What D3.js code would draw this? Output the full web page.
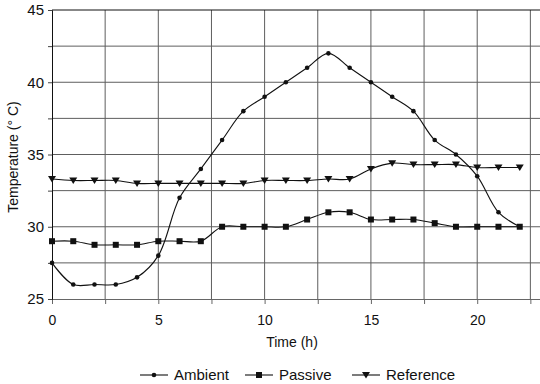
<!DOCTYPE html>
<html>
<head>
<meta charset="utf-8">
<script src="https://cdn.jsdelivr.net/npm/d3@7"></script>
<style>
  body { margin: 0; background: #fff; }
  text { font-family: "Liberation Sans", Arial, sans-serif; fill: #111; }
</style>
</head>
<body>
<svg id="chart" width="540" height="384"></svg>
<script>
// hours 0..22
var hours = [0, 1, 2, 3, 4, 5, 6, 7, 8, 9, 10, 11, 12, 13, 14, 15, 16, 17, 18, 19, 20, 21, 22];
var ambient = [27.5, 26, 26, 26, 26.5, 28, 32, 34, 36, 38, 39, 40, 41, 42, 41, 40, 39, 38, 36, 35, 33.5, 31, 30];
var passive = [29, 29, 28.75, 28.75, 28.75, 29, 29, 29, 30, 30, 30, 30, 30.5, 31, 31, 30.5, 30.5, 30.5, 30.25, 30, 30, 30, 30];
var reference = [33.3, 33.2, 33.2, 33.2, 33, 33, 33, 33, 33, 33, 33.2, 33.2, 33.2, 33.3, 33.3, 34, 34.4, 34.3, 34.3, 34.3, 34.1, 34.1, 34.1];
var seriesNames = ['Ambient', 'Passive', 'Reference'];
var xTicks = [0, 5, 10, 15, 20];
var yTicks = [25, 30, 35, 40, 45];

var svg = d3.select('#chart');
var plotLeft = 52, plotRight = 541, plotTop = 10, plotBottom = 299;

var xScale = d3.scaleLinear().domain([0, 23]).range([plotLeft, plotRight]);
var yScale = d3.scaleLinear().domain([25, 45]).range([plotBottom, plotTop]);

// grid every 2.5
var gridX = d3.range(2.5, 23, 2.5);
var gridY = d3.range(27.5, 45, 2.5);

svg.append('g').selectAll('line')
    .data(gridX)
    .enter().append('line')
    .attr('x1', d => xScale(d)).attr('x2', d => xScale(d))
    .attr('y1', plotTop).attr('y2', plotBottom)
    .attr('stroke', '#5e5e5e').attr('stroke-width', 1);

svg.append('g').selectAll('line')
    .data(gridY)
    .enter().append('line')
    .attr('x1', plotLeft).attr('x2', plotRight)
    .attr('y1', d => yScale(d)).attr('y2', d => yScale(d))
    .attr('stroke', '#5e5e5e').attr('stroke-width', 1);

// top border
svg.append('line')
    .attr('x1', plotLeft).attr('x2', plotRight)
    .attr('y1', plotTop).attr('y2', plotTop)
    .attr('stroke', '#111');

// axes
var xAxis = d3.axisBottom(xScale)
    .tickValues(d3.range(0, 23, 2.5))
    .tickSize(5)
    .tickFormat(d => xTicks.indexOf(d) >= 0 ? d : '');
var gx = svg.append('g')
    .attr('transform', `translate(0,${plotBottom})`)
    .call(xAxis);
gx.select('.domain').attr('stroke', '#666');
gx.selectAll('.tick line').attr('stroke', '#666');
gx.selectAll('text').attr('font-size', 14).attr('dy', '1.25em');

var yAxis = d3.axisLeft(yScale)
    .tickValues(d3.range(25, 45.1, 2.5))
    .tickSize(4)
    .tickFormat(d => yTicks.indexOf(d) >= 0 ? d : '');
var gy = svg.append('g')
    .attr('transform', `translate(${plotLeft},0)`)
    .call(yAxis);
gy.select('.domain').attr('stroke', '#111');
gy.selectAll('.tick line').attr('stroke', '#444');
gy.selectAll('text').attr('font-size', 15).attr('x', -8);

svg.append('text')
    .attr('x', 292).attr('y', 347)
    .attr('text-anchor', 'middle')
    .attr('font-size', 14)
    .text('Time (h)');

svg.append('text')
    .attr('transform', 'translate(18,157) rotate(-90)')
    .attr('text-anchor', 'middle')
    .attr('font-size', 14)
    .text('Temperature (° C)');

// lines
var line = d3.line()
    .x((d, i) => xScale(hours[i]))
    .y(d => yScale(d))
    .curve(d3.curveCatmullRom.alpha(0.5));

var allSeries = [ambient, passive, reference];
var markers = [
    function (g) { return g.append('circle').attr('r', 2.3); },
    function (g) { return g.append('rect').attr('x', -3).attr('y', -3).attr('width', 6).attr('height', 6); },
    function (g) { return g.append('path').attr('d', 'M-4,-3L4,-3L0,3.5Z'); }
];

allSeries.forEach(function (s, k) {
    svg.append('path')
        .datum(s)
        .attr('d', line)
        .attr('fill', 'none')
        .attr('stroke', '#111')
        .attr('stroke-width', 1.1);
    s.forEach(function (v, i) {
        var g = svg.append('g')
            .attr('transform', `translate(${xScale(hours[i])},${yScale(v)})`);
        markers[k](g).attr('fill', '#111');
    });
});

// legend
var legendX = [140, 245, 352];
var legend = svg.append('g');
seriesNames.forEach(function (name, k) {
    var g = legend.append('g').attr('transform', `translate(${legendX[k]},375)`);
    g.append('line').attr('x1', 0).attr('x2', 28).attr('y1', 0).attr('y2', 0)
        .attr('stroke', '#111').attr('stroke-width', 1.1);
    var m = g.append('g').attr('transform', 'translate(14,0)');
    markers[k](m).attr('fill', '#111');
    g.append('text').attr('x', 34).attr('y', 5)
        .attr('font-size', 15)
        .text(name);
});
</script>
</body>
</html>
